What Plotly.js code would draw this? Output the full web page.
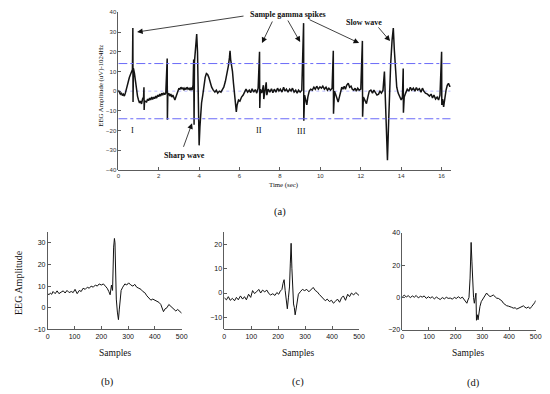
<!DOCTYPE html>
<html>
<head>
<meta charset="utf-8">
<script src="https://cdn.plot.ly/plotly-3.0.1.min.js"></script>
<style>html,body{margin:0;padding:0;background:#fff;}#chart{width:550px;height:394px;}</style>
</head>
<body>
<div id="chart"></div>
<script>
// ---- Data ----
// Panel (a): EEG trace, [time (sec), amplitude (uV)]
const topSignal = [
[0.00,0.5],[0.05,-0.5],[0.10,-1.5],[0.15,-0.8],[0.20,-2.2],[0.25,-1.5],[0.30,-2.5],[0.35,-1.0],[0.40,1.5],[0.45,3.5],
[0.50,5.0],[0.55,7.0],[0.60,8.5],[0.65,10.0],[0.70,11.0],[0.72,32.0],[0.73,-5.5],[0.75,11.5],[0.80,9.0],[0.85,4.0],
[0.90,1.0],[0.95,-2.5],[1.00,-4.5],[1.05,-6.0],[1.10,-5.0],[1.15,-6.5],[1.20,-4.0],[1.25,-3.0],[1.27,2.0],[1.28,-9.5],
[1.30,-5.0],[1.40,-5.5],[1.45,-4.0],[1.50,-4.8],[1.55,-3.5],[1.60,-4.5],[1.65,-3.0],[1.70,-4.2],[1.75,-3.0],[1.80,-3.8],
[1.85,-2.5],[1.90,-3.5],[1.95,-2.0],[2.00,-2.8],[2.05,-1.5],[2.10,-2.5],[2.15,-1.0],[2.20,-2.0],[2.25,-0.8],[2.30,-1.8],
[2.35,-1.0],[2.42,16.5],[2.43,-14.5],[2.45,-2.0],[2.50,-1.0],[2.55,-2.5],[2.60,-1.5],[2.65,-3.0],[2.70,-2.0],[2.75,-4.0],
[2.80,-4.5],[2.85,-3.0],[2.90,-1.0],[2.95,0.5],[3.00,1.5],[3.05,0.8],[3.10,2.0],[3.15,1.0],[3.20,1.8],[3.25,0.5],
[3.30,1.5],[3.35,0.8],[3.40,2.0],[3.45,1.0],[3.50,1.5],[3.55,0.5],[3.60,1.8],[3.65,0.5],[3.70,3.0],[3.73,16.0],
[3.75,-17.0],[3.77,15.0],[3.80,18.0],[3.85,24.0],[3.88,29.0],[3.92,20.0],[3.96,0.0],[4.00,-27.5],[4.04,-18.0],[4.08,-11.0],
[4.12,-6.0],[4.18,-2.0],[4.24,3.0],[4.30,7.0],[4.36,9.0],[4.42,8.5],[4.48,7.0],[4.55,4.0],[4.62,2.0],[4.70,0.5],
[4.78,-0.5],[4.85,0.5],[4.92,-1.0],[5.00,0.0],[5.08,-0.5],[5.15,0.8],[5.22,2.0],[5.30,5.0],[5.38,9.0],[5.45,13.0],
[5.50,17.0],[5.53,20.5],[5.56,16.0],[5.60,14.0],[5.65,10.0],[5.70,4.0],[5.75,-2.0],[5.80,-6.0],[5.84,-10.5],[5.88,-7.0],
[5.95,-4.5],[6.02,-5.0],[6.10,-3.0],[6.18,-2.0],[6.25,-0.5],[6.32,1.0],[6.40,-0.5],[6.48,0.5],[6.55,-0.8],[6.62,1.2],
[6.70,-0.5],[6.78,0.8],[6.85,-1.0],[6.92,1.5],[6.99,20.0],[7.00,-8.5],[7.03,1.0],[7.10,-1.0],[7.18,3.0],[7.20,-4.0],
[7.25,0.5],[7.32,4.5],[7.35,-2.0],[7.42,1.0],[7.50,-0.5],[7.58,1.2],[7.65,-0.8],[7.72,1.0],[7.80,-0.5],[7.88,1.5],
[7.95,0.0],[8.02,1.0],[8.10,-0.5],[8.18,2.0],[8.25,0.0],[8.32,1.0],[8.40,-0.5],[8.48,1.0],[8.55,0.0],[8.62,1.5],
[8.70,-0.5],[8.78,0.5],[8.85,-1.0],[8.92,0.5],[9.00,-0.5],[9.08,0.5],[9.17,34.5],[9.18,-15.0],[9.22,-2.0],[9.28,-5.0],
[9.33,-7.0],[9.38,-3.0],[9.45,0.0],[9.52,1.0],[9.60,0.5],[9.68,2.0],[9.75,1.0],[9.82,2.5],[9.90,1.0],[9.98,2.2],
[10.05,1.5],[10.12,2.5],[10.20,1.0],[10.28,2.0],[10.35,0.5],[10.42,1.5],[10.50,0.5],[10.58,1.5],[10.64,20.5],[10.65,-11.5],
[10.70,0.0],[10.75,-1.5],[10.82,-3.5],[10.88,-5.5],[10.94,-3.0],[11.00,0.0],[11.06,2.0],[11.12,1.0],[11.18,2.5],[11.24,1.0],
[11.30,3.0],[11.38,4.0],[11.45,2.0],[11.52,2.5],[11.58,1.0],[11.65,0.5],[11.72,1.5],[11.78,0.0],[11.85,1.5],[11.92,0.5],
[12.00,1.0],[12.08,25.5],[12.09,-13.0],[12.13,-3.0],[12.20,-4.5],[12.28,-6.3],[12.35,-3.0],[12.42,0.0],[12.50,0.5],[12.58,-1.0],
[12.65,0.5],[12.72,-0.5],[12.80,-2.0],[12.88,-1.5],[12.95,0.0],[13.02,-1.0],[13.10,0.5],[13.17,10.0],[13.20,-2.0],[13.25,-10.0],
[13.32,-35.0],[13.38,-15.0],[13.42,2.0],[13.48,14.0],[13.55,26.0],[13.61,32.0],[13.66,21.0],[13.72,8.0],[13.78,2.0],[13.85,-1.0],
[13.92,-3.0],[14.00,-4.5],[14.06,-3.0],[14.10,11.5],[14.11,-11.0],[14.15,-3.0],[14.22,-1.0],[14.30,1.0],[14.38,0.0],[14.45,2.0],
[14.52,0.5],[14.60,1.5],[14.68,0.0],[14.75,1.8],[14.82,0.5],[14.90,1.2],[14.98,-0.5],[15.05,1.5],[15.12,0.0],[15.20,-1.0],
[15.30,-1.5],[15.40,-2.5],[15.48,-1.5],[15.55,-3.5],[15.62,-2.0],[15.70,-4.0],[15.78,-3.0],[15.85,-4.5],[15.92,-2.0],[16.00,20.0],
[16.01,-7.0],[16.05,-4.0],[16.10,-8.0],[16.15,-4.0],[16.22,0.5],[16.28,3.0],[16.34,4.0],[16.40,2.5],[16.45,2.5]
];
const thresholdLevels = [14, -14];
const baselineLevel = 0;
const timeSpan = [0, 16.45];

// Panel (b)
const bSamples = [0,5,10,15,20,28,35,42,50,58,65,72,80,88,95,102,110,118,125,132,140,148,155,162,170,178,185,192,200,208,215,222,228,233,238,242,246,249,251,253,256,260,264,267,270,274,280,288,295,302,310,318,325,332,340,348,355,362,370,378,385,392,400,408,415,422,428,432,438,445,452,458,465,472,478,485,490,495,500];
const bValues = [6.5,6,6.8,6.2,7.5,6.5,7.8,6.5,7.2,7.8,6.8,8,7,7.5,7,8.5,6.5,8,7.5,9,8.5,9.5,9,10,9.5,10.5,10,11,10.5,11,10,9,7.5,6,10.5,8,28,32,30,18,4,-2,-5.5,-1,5,8,9.5,11,10.5,11.5,10.5,10,10.8,9.5,9,8.5,7.5,7,5.5,4.5,3.5,4,3.5,3,2.5,1.5,-0.5,-1.8,-0.5,0,1.5,0.8,0,-0.5,-1.5,-0.8,-1.5,-2,-2.5];

// Panel (c)
const cSamples = [0,8,15,22,30,38,45,52,60,68,75,82,90,98,105,112,120,128,135,142,150,158,165,172,180,188,195,202,208,214,218,222,226,230,234,238,242,245,248,251,254,257,260,263,266,270,275,282,290,298,306,314,322,330,338,345,352,360,368,375,382,390,398,405,412,420,428,435,442,450,458,465,472,480,488,495,500];
const cValues = [-2,-2.8,-1.5,-3,-2.2,-3.2,-1.8,-2.8,-1.2,-2.5,-1.5,-2.8,-0.5,-1.8,1,-0.2,0.5,1.5,0,1.2,0.5,1.2,-0.2,-0.8,-0.3,-1,0.2,-0.5,0.8,1.5,4,5.5,1,-2,-6.5,-2,2.5,12,20.5,10,-3,-4.5,-6,-9,-7,-3,-0.5,0.5,1.5,1,1.5,0.5,1.5,2.3,1,0.5,-0.5,-1.5,-2.2,-3.2,-2.5,-3.5,-3,-4.2,-3.5,-2.5,-3.8,-2,-1.2,-3,-0.5,-1.5,0,-0.8,0.2,-0.5,-1];

// Panel (d)
const dSamples = [0,8,15,22,30,38,45,52,60,68,75,82,90,98,105,112,120,128,135,142,150,158,165,172,180,188,195,202,210,218,225,232,238,242,246,250,254,258,261,264,267,270,273,276,278,281,284,287,291,296,304,310,316,322,329,335,341,348,354,360,366,373,379,385,391,398,404,410,416,423,429,435,441,448,454,460,466,472,479,485,491,496,500];
const dValues = [0.5,1.5,0.3,1.2,0,1,0.2,1.3,-0.2,0.8,0.3,1,-0.5,0.5,-0.3,0.5,-0.8,0.3,-0.5,-1.2,0,-0.8,0.2,-0.5,-0.3,-1,0.2,-0.6,0.5,-0.5,0.3,-1.5,-3,-3.5,-1.5,0,12,34,22,8.8,0,-3.5,0,2.7,-14,-10.6,-13.7,-9,-5.5,-2.5,0,1.5,2.8,1.5,0.6,1,1.6,0.5,-0.4,-0.5,-1,-2,-3.5,-4.3,-5,-5.3,-5.5,-6,-6.5,-6.3,-7.1,-6.5,-6,-5.5,-5.1,-6,-6.5,-5.8,-6.8,-5.5,-4.5,-3.2,-1.8];

const topTicksX = [0,2,4,6,8,10,12,14,16];
const topTicksY = [-40,-30,-20,-10,0,10,20,30,40];
const sampleTicks = [0,100,200,300,400,500];

// ---- Styling ----
const SERIF = '"Liberation Serif", "Times New Roman", serif';
const SANS = '"Liberation Sans", Arial, sans-serif';
const W = 550, H = 394;
const px = v => v / W;
const py = v => 1 - v / H;

function axisBase(extra) {
  return Object.assign({
    showline: true, linecolor: '#333', linewidth: 0.8, mirror: false,
    ticks: 'inside', ticklen: 3, tickwidth: 0.8, tickcolor: '#333',
    showgrid: false, zeroline: false, fixedrange: true,
    tickfont: {family: SANS, size: 7, color: '#111'}
  }, extra);
}

const traces = [
  {x: topSignal.map(p => p[0]), y: topSignal.map(p => p[1]), xaxis: 'x', yaxis: 'y', mode: 'lines',
   line: {color: '#141414', width: 1.5}},
  {x: bSamples, y: bValues, xaxis: 'x2', yaxis: 'y2', mode: 'lines', line: {color: '#111', width: 1}},
  {x: cSamples, y: cValues, xaxis: 'x3', yaxis: 'y3', mode: 'lines', line: {color: '#111', width: 1}},
  {x: dSamples, y: dValues, xaxis: 'x4', yaxis: 'y4', mode: 'lines', line: {color: '#111', width: 1}}
];

const shapes = [
  {type: 'line', xref: 'x', yref: 'y', x0: timeSpan[0], x1: timeSpan[1], y0: baselineLevel, y1: baselineLevel,
   layer: 'below', line: {color: '#b8bbff', width: 1, dash: 'dot'}},
  ...thresholdLevels.map(lv => ({type: 'line', xref: 'x', yref: 'y', x0: timeSpan[0], x1: timeSpan[1], y0: lv, y1: lv,
   layer: 'above', line: {color: '#6a6af8', width: 1, dash: 'dashdot'}}))
];

function arrow(ax, ay, x, y) {
  return {xref: 'x', yref: 'y', axref: 'x', ayref: 'y', x: x, y: y, ax: ax, ay: ay, text: '',
          showarrow: true, arrowhead: 2, arrowsize: 1.4, arrowwidth: 0.8, arrowcolor: '#111', standoff: 0, startstandoff: 0};
}
function txt(x, y, text, size, bold, xref, yref, angle) {
  return {xref: xref || 'x', yref: yref || 'y', x: x, y: y, text: bold ? '<b>' + text + '</b>' : text,
          showarrow: false, xanchor: 'center', yanchor: 'middle', textangle: angle || 0,
          font: {family: SERIF, size: size, color: '#111'}};
}

const annotations = [
  txt(8.4, 38.7, 'Sample gamma spikes', 8, true),
  txt(12.15, 35.0, 'Slow wave', 8, true),
  txt(3.26, -32.6, 'Sharp wave', 8, true),
  txt(0.68, -19.8, 'I', 8.5, false),
  txt(6.97, -19.8, 'II', 8.5, false),
  txt(9.09, -20.2, 'III', 8.5, false),
  arrow(6.27, 38.2, 0.93, 30.0),
  arrow(7.66, 36.1, 7.11, 24.4),
  arrow(8.35, 36.6, 9.00, 24.9),
  arrow(9.39, 36.6, 11.92, 24.4),
  arrow(12.81, 33.1, 13.45, 25.4),
  arrow(3.20, -29.0, 3.65, -16.3),
  txt(px(100.7), py(86), 'EEG Amplitude (uV)-1024Hz', 6.8, false, 'paper', 'paper', -90),
  txt(px(283), py(185), 'Time (sec)', 6.8, false, 'paper', 'paper'),
  txt(px(280), py(212), '(a)', 10.5, false, 'paper', 'paper'),
  txt(px(18), py(283), 'EEG Amplitude', 10, false, 'paper', 'paper', -90),
  txt(px(115), py(353), 'Samples', 9.5, false, 'paper', 'paper'),
  txt(px(298), py(353), 'Samples', 9.5, false, 'paper', 'paper'),
  txt(px(468), py(353), 'Samples', 9.5, false, 'paper', 'paper'),
  txt(px(107), py(382), '(b)', 10.5, false, 'paper', 'paper'),
  txt(px(298), py(382), '(c)', 10.5, false, 'paper', 'paper'),
  txt(px(473), py(383), '(d)', 10.5, false, 'paper', 'paper')
];

const layout = {
  width: W, height: H, margin: {l: 0, r: 0, t: 0, b: 0},
  paper_bgcolor: '#fff', plot_bgcolor: 'rgba(0,0,0,0)', showlegend: false,
  font: {family: SANS, color: '#222'},
  xaxis: axisBase({domain: [px(118.3), px(450.7)], range: timeSpan, tickvals: topTicksX,
                   tickfont: {family: SANS, size: 6, color: '#333'}, anchor: 'y'}),
  yaxis: axisBase({domain: [py(170), py(12.3)], range: [-40, 40], tickvals: topTicksY,
                   tickfont: {family: SANS, size: 6, color: '#333'}, anchor: 'x'}),
  xaxis2: axisBase({domain: [px(47.7), px(181.7)], range: [0, 500], tickvals: sampleTicks, anchor: 'y2'}),
  yaxis2: axisBase({domain: [py(329.4), py(232.4)], range: [-10, 34.8], tickvals: [-10,0,10,20,30], anchor: 'x2'}),
  xaxis3: axisBase({domain: [px(224.3), px(359)], range: [0, 500], tickvals: sampleTicks, anchor: 'y3'}),
  yaxis3: axisBase({domain: [py(329.4), py(232.4)], range: [-15, 25], tickvals: [-10,0,10,20], anchor: 'x3'}),
  xaxis4: axisBase({domain: [px(402.3), px(535.7)], range: [0, 500], tickvals: sampleTicks, anchor: 'y4'}),
  yaxis4: axisBase({domain: [py(330), py(232.7)], range: [-20, 40], tickvals: [-20,0,20,40], anchor: 'x4'}),
  shapes: shapes,
  annotations: annotations
};

Plotly.newPlot('chart', traces, layout, {displayModeBar: false, staticPlot: true});
</script>
</body>
</html>
